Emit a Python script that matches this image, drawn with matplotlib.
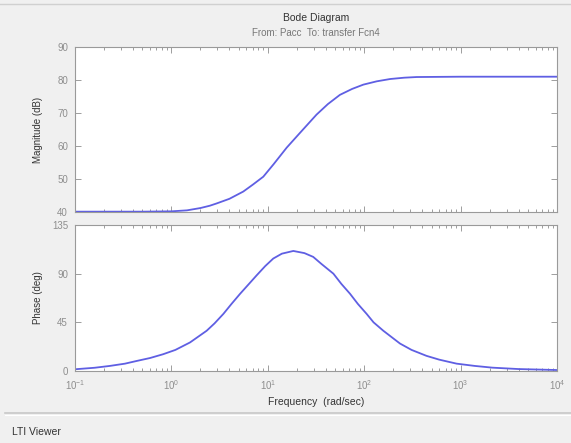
import matplotlib
matplotlib.use("Agg")
import matplotlib.pyplot as plt
from matplotlib.lines import Line2D
from matplotlib.ticker import LogLocator, NullFormatter

plt.rcParams['font.family'] = ['Liberation Sans', 'DejaVu Sans']

# values (rad/sec, dB, deg)
mag_freq = [0.1, 0.5, 1.0, 1.45, 2.0, 2.5, 2.95, 4.0, 5.57, 7.0, 8.98, 11.5,
            15.7, 21.6, 32.0, 42.0, 56.0, 75.0, 98.0, 135.0, 186.0, 260.0,
            350.0, 1000.0, 10000.0]
mag_db = [40.1, 40.1, 40.2, 40.5, 41.2, 41.9, 42.6, 44.0, 46.2, 48.3, 50.7,
          54.5, 59.5, 64.0, 69.5, 72.7, 75.5, 77.3, 78.6, 79.6, 80.3, 80.7,
          80.9, 81.0, 81.0]

phase_freq = [0.1, 0.16, 0.23, 0.33, 0.437, 0.6, 0.82, 1.1, 1.56, 2.32, 2.8,
              3.46, 4.2, 5.16, 6.3, 7.67, 9.4, 11.4, 14.0, 18.4, 24.0, 29.6,
              36.0, 47.9, 58.0, 71.3, 86.0, 106.0, 125.0, 158.0, 235.0, 310.0,
              443.0, 600.0, 909.0, 1400.0, 2130.0, 4000.0, 10000.0]
phase_deg = [1.6, 3.0, 4.7, 6.8, 9.3, 12.0, 15.5, 19.5, 26.4, 37.2, 44.0,
             52.8, 62.0, 71.4, 80.0, 88.5, 97.0, 104.0, 108.5, 111.0, 109.0,
             105.5, 99.0, 90.0, 80.5, 71.4, 62.0, 52.8, 45.0, 37.2, 25.4,
             19.5, 14.0, 10.5, 6.8, 4.7, 3.1, 1.8, 0.9]

mag_ticks = [40, 50, 60, 70, 80, 90]
phase_ticks = [0, 45, 90, 135]

line_color = '#5f5fe3'
tick_color = '#8e8e8e'

fig = plt.figure(figsize=(5.71, 4.43), dpi=100, facecolor='#f0f0f0')
W, H = 571.0, 443.0


def box(left, top, right, bottom):
    return [left / W, 1 - bottom / H, (right - left) / W, (bottom - top) / H]


ax1 = fig.add_axes(box(75, 47, 557, 212))
ax2 = fig.add_axes(box(75, 225, 557, 371))

ax1.plot(mag_freq, mag_db, color=line_color, lw=1.3)
ax2.plot(phase_freq, phase_deg, color=line_color, lw=1.3)

for ax in (ax1, ax2):
    ax.set_xscale('log')
    ax.set_xlim(0.1, 10000)
    ax.xaxis.set_major_locator(LogLocator(base=10, numticks=10))
    ax.xaxis.set_minor_locator(LogLocator(base=10, subs=range(2, 10), numticks=10))
    ax.xaxis.set_minor_formatter(NullFormatter())
    ax.tick_params(which='both', direction='in', top=True, right=True,
                   colors=tick_color, labelsize=7, width=0.6)
    ax.tick_params(which='major', length=4, pad=5)
    ax.tick_params(which='minor', length=2)
    for s in ax.spines.values():
        s.set_color('#9a9a9a')
        s.set_linewidth(0.8)

ax1.set_ylim(40, 90)
ax1.set_yticks(mag_ticks)
ax1.tick_params(labelbottom=False)
ax1.set_ylabel('Magnitude (dB)', fontsize=7, color='#333333')

ax2.set_ylim(0, 135)
ax2.set_yticks(phase_ticks)
ax2.set_ylabel('Phase (deg)', fontsize=7, color='#333333')
ax2.set_xlabel('Frequency  (rad/sec)', fontsize=7.5, color='#333333', labelpad=4)
ax1.yaxis.set_label_coords(-0.067, 0.5)
ax2.yaxis.set_label_coords(-0.067, 0.5)

fig.text(316 / W, 1 - 18 / H, 'Bode Diagram', ha='center', va='center',
         fontsize=7.5, color='#333333')
fig.text(316 / W, 1 - 33 / H, 'From: Pacc  To: transfer Fcn4', ha='center',
         va='center', fontsize=7, color='#777777')

# status bar
fig.add_artist(Line2D([5 / W, 1], [1 - 413 / H] * 2, color='#c8c8c8', lw=1.2))
fig.add_artist(Line2D([5 / W, 1], [1 - 415 / H] * 2, color='#ffffff', lw=0.8))
fig.add_artist(Line2D([0, 1], [1 - 4 / H] * 2, color='#d0d0d0', lw=1))
fig.text(12 / W, 1 - 432 / H, 'LTI Viewer', ha='left', va='center',
         fontsize=7.5, color='#333333')

fig.savefig('out.png', dpi=100, facecolor=fig.get_facecolor())
